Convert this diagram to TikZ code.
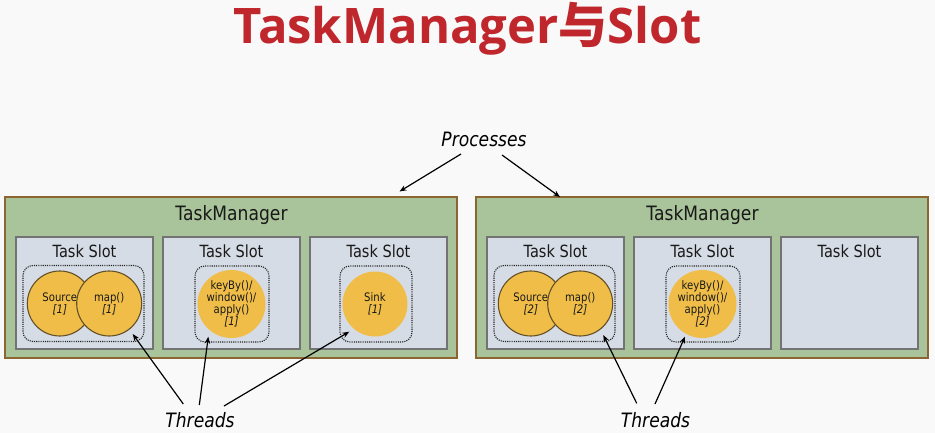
\documentclass[tikz,border=0pt]{standalone}
\usepackage{fontspec}
\setmainfont{DejaVu Sans}[FakeStretch=0.865]
\newfontfamily\titlefont{Open Sans}
\newfontfamily\cjkfont{Noto Sans CJK SC}
\usetikzlibrary{arrows.meta}
\definecolor{bgwhite}{RGB}{249,249,249}
\definecolor{titlered}{RGB}{192,39,45}
\definecolor{tmgreen}{RGB}{169,196,154}
\definecolor{tmborder}{RGB}{140,102,48}
\definecolor{slotblue}{RGB}{214,220,229}
\definecolor{slotborder}{RGB}{115,115,115}
\definecolor{opyellow}{RGB}{240,190,72}
\definecolor{opborder}{RGB}{100,80,40}
\definecolor{textdark}{RGB}{25,25,25}
\tikzstyle{titletext} = [anchor=base, font=\titlefont\bfseries\fontsize{49}{50}\selectfont, text=titlered]
\tikzstyle{tmbox} = [draw=tmborder, line width=1.4pt, fill=tmgreen, minimum width=452, minimum height=161, inner sep=0pt]
\tikzstyle{slotbox} = [draw=slotborder, line width=1.6pt, fill=slotblue, minimum width=137, minimum height=112, inner sep=0pt]
\tikzstyle{grpbox} = [draw=black!85, line width=1.1pt, dash pattern=on 1.1pt off 1.1pt, rounded corners=10pt, minimum height=76, inner sep=0pt]
\tikzstyle{opnode} = [circle, fill=opyellow, minimum size=65, inner sep=0pt, align=center, font=\fontsize{11.7}{12}\selectfont, text=textdark]
\tikzstyle{tmlabel} = [anchor=base, font=\fontsize{19.8}{24}\selectfont, text=textdark]
\tikzstyle{slotlabel} = [anchor=base, font=\fontsize{16.8}{20}\selectfont, text=textdark]
\tikzstyle{notetext} = [anchor=base, font=\fontsize{19.8}{24}\selectfont\itshape, text=black]
\tikzstyle{arrow} = [line width=1.2pt, -{Stealth[length=7pt,width=5.5pt]}]

\begin{document}
\begin{tikzpicture}[x=1pt,y=-1pt]
  % Latar
  \fill[bgwhite] (0,0) rectangle (935,433);
  \useasboundingbox (0,0) rectangle (935,433);

  % Judul
  \node[titletext] (title) at (467.5,43.5) {TaskManager{\cjkfont 与}Slot};
  \node[notetext] (proc) at (484,147) {Processes};

  % Dua TaskManager
  \foreach \o/\p in {0/1, 471/2} {
    \node[tmbox] (tm\p) at (231+\o,277.5) {};
    \node[tmlabel] (tmlab\p) at (231.5+\o,220) {TaskManager};
    \foreach \s/\x in {a/84.5, b/231.5, c/378.5} {
      \node[slotbox] (slot\s\p) at (\x+\o,293) {};
      \node[slotlabel] (slotlab\s\p) at (\x+\o,257) {Task Slot};
    }

    % Source dan map()
    \node[grpbox, minimum width=121] (grpa\p) at (83.5+\o,303.5) {};
    \node[opnode, draw=opborder, line width=1.1pt] (src\p) at (59.8+\o,303.5) {Source\\\textit{[\p]}};
    \node[opnode, draw=opborder, line width=1.1pt] (map\p) at (109.2+\o,303.5) {map()\\\textit{[\p]}};

    % keyBy/window/apply
    \node[grpbox, minimum width=74] (grpb\p) at (232+\o,304) {};
    \node[opnode] (win\p) at (231.5+\o,304) {keyBy()/\\window()/\\apply()\\\textit{[\p]}};
  }

  % Sink hanya di TaskManager pertama
  \node[grpbox, minimum width=72] (grpc1) at (376,304) {};
  \node[opnode] (sink1) at (375,304) {Sink\\\textit{[1]}};

  % Threads
  \node[notetext] (thr1) at (200,427) {Threads};
  \node[notetext] (thr2) at (655.5,427) {Threads};

  % Ujung-ujung panah
  \foreach \n/\x/\y in {pa/461/154, pb/502/155, pc/399.5/191.5, pd/560/197,
      ta/183.3/404, tb/199.3/405, tc/224/406, td/636.7/403.3, te/655/404,
      ha/132.7/334, hb/208.3/336.7, hc/349.3/331.7, hd/603.3/335, he/685/336.7}
    \coordinate (\n) at (\x,\y);

  % Panah
  \draw[arrow] (pa) -- (pc);
  \draw[arrow] (pb) -- (pd);
  \foreach \a in {a,b,c,d,e}
    \draw[arrow] (t\a) -- (h\a);
\end{tikzpicture}
\end{document}
